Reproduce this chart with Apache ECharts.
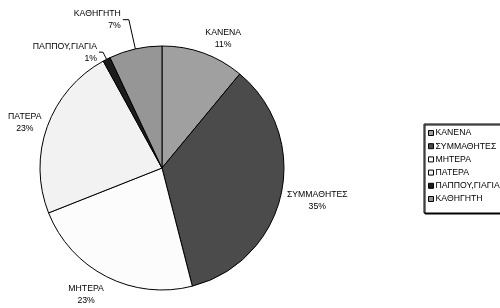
<!DOCTYPE html>
<html>
<head>
<meta charset="utf-8">
<script src="https://cdn.jsdelivr.net/npm/echarts@6/dist/echarts.min.js"></script>
<style>
html, body { margin: 0; padding: 0; background: #fff; }
#chart { width: 500px; height: 308px; }
</style>
</head>
<body>
<div id="chart"></div>
<script>
// κατηγορίες και ποσοστά (%)
var categories = ['ΚΑΝΕΝΑ', 'ΣΥΜΜΑΘΗΤΕΣ', 'ΜΗΤΕΡΑ', 'ΠΑΤΕΡΑ', 'ΠΑΠΠΟΥ,ΓΙΑΓΙΑ', 'ΚΑΘΗΓΗΤΗ'];
var percents = [11, 35, 23, 23, 1, 7];
var colors = ['#a0a0a0', '#4b4b4b', '#fcfcfc', '#f2f2f2', '#1c1c1c', '#969696'];
var withLine = [false, false, false, false, true, true];

var CX = 162, CY = 168, R = 122;
var FONT = 8.7;

// μέση γωνία κάθε τομέα (δεξιόστροφα από πάνω)
var total = percents.reduce(function (a, b) { return a + b; }, 0);
var midAngles = [];
var acc = 0;
percents.forEach(function (v) {
    midAngles.push((acc + v / 2) / total * 2 * Math.PI);
    acc += v;
});

var myChart = echarts.init(document.getElementById('chart'));

var pieData = categories.map(function (name, i) {
    return {
        name: name,
        value: percents[i],
        itemStyle: { color: colors[i] },
        labelLine: withLine[i]
            ? { show: true, length: name === 'ΚΑΘΗΓΗΤΗ' ? 30 : 8, length2: name === 'ΚΑΘΗΓΗΤΗ' ? 6 : 4 }
            : { show: false }
    };
});

myChart.setOption({
    backgroundColor: '#fff',
    animation: false,
    textStyle: { fontFamily: 'Liberation Sans, Arial, sans-serif' },
    legend: {
        orient: 'vertical',
        left: 424,
        top: 124,
        padding: [4, 6, 9, 4],
        icon: 'rect',
        itemWidth: 5,
        itemHeight: 5,
        itemGap: 3.2,
        backgroundColor: '#fff',
        borderColor: '#000',
        borderWidth: 1,
        shadowColor: '#000',
        shadowOffsetX: 1,
        shadowOffsetY: 1,
        shadowBlur: 0,
        data: categories,
        textStyle: { fontSize: FONT, lineHeight: 10, color: '#000', padding: [0, 0, 0, -3] },
        itemStyle: { borderColor: '#000', borderWidth: 1 }
    },
    series: [{
        type: 'pie',
        center: [CX, CY],
        radius: R,
        startAngle: 90,
        clockwise: true,
        avoidLabelOverlap: false,
        itemStyle: { borderColor: '#000', borderWidth: 1 },
        label: {
            show: true,
            position: 'outside',
            formatter: '{b}\n{c}%',
            fontSize: FONT,
            lineHeight: 12,
            color: '#000',
            align: 'center',
            distanceToLabelLine: 2
        },
        labelLine: { lineStyle: { color: '#000', width: 1 } },
        labelLayout: function (p) {
            var i = p.dataIndex;
            if (withLine[i]) return { hideOverlap: false };
            var a = midAngles[i];
            var ux = Math.sin(a), uy = -Math.cos(a);
            var w = p.labelRect.width, h = p.labelRect.height;
            return {
                x: CX + ux * (R + 6) + (ux >= 0 ? 1 : -1) * w / 2,
                y: CY + uy * (R + 6) + uy * h / 2 + 2,
                align: 'center',
                verticalAlign: 'middle',
                hideOverlap: false
            };
        },
        data: pieData
    }]
});
</script>
</body>
</html>
